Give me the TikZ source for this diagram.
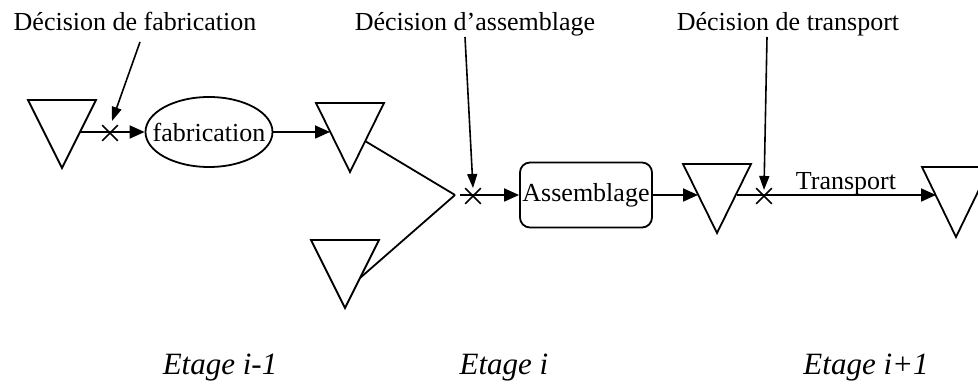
\documentclass[tikz,border=0pt]{standalone}
\usepackage{fontspec}
\setmainfont{Liberation Serif}
\usetikzlibrary{arrows.meta,shapes.geometric,shapes.misc,calc}
\begin{document}
\begin{tikzpicture}[x=1pt,y=-1pt,line width=1.8pt,
  txt/.style={font=\fontsize{26}{30}\selectfont, inner sep=0pt},
  etage/.style={font=\fontsize{31}{34}\selectfont\itshape, inner sep=0pt, anchor=base},
  arr/.style={-{Triangle[length=15pt,width=13pt]}},
  darr/.style={-{Triangle[length=14pt,width=10pt]}, line width=1.6pt},
  xmark/.style={draw, cross out, minimum size=14pt, inner sep=0pt, line width=1.6pt},
  tri/.style={line width=1.8pt, line join=miter}]
\useasboundingbox (0,0) rectangle (978,387);
\clip (0,0) rectangle (978,387);
% triangles (coordinate = centre of top edge)
\coordinate (t1) at (62,100);
\coordinate (t2) at (350,103);
\coordinate (t3) at (345,240);
\coordinate (t4) at (717,164);
\coordinate (t5) at (956,167);
\foreach \t/\h in {t1/68, t2/69, t3/68, t4/69, t5/70}
  \draw[tri] ($(\t)+(-34,0)$) -- ($(\t)+(34,0)$) -- ($(\t)+(0,\h)$) -- cycle;
% process nodes
\node[draw, ellipse, minimum width=127pt, minimum height=70pt, inner sep=0pt, line width=1.8pt,
  label={[txt]center:fabrication}] (fab) at (209,132) {};
\node[txt, draw, rounded corners=10pt, minimum width=132pt, minimum height=65pt, line width=1.8pt] (ass) at (586,195) {Assemblage};
% cross marks
\node[xmark] (x1) at (110,133) {};
\node[xmark] (x2) at (473,196) {};
\node[xmark] (x3) at (764,196) {};
% decision labels
\node[txt, anchor=base] (d1) at (135,31) {Décision de fabrication};
\node[txt, anchor=base] (d2) at (475,31) {Décision d’assemblage};
\node[txt, anchor=base] (d3) at (788,31) {Décision de transport};
\coordinate (d1s) at (140,42);
\coordinate (d2s) at (465,37);
\coordinate (d3s) at (767,37);
\draw[darr] (d1s) -- ($(x1)+(2,-12)$);
\draw[darr] (d2s) -- ($(x2)+(0,-8)$);
\draw[darr] (d3s) -- ($(x3)+(0,-6)$);
% flow
\draw[arr] ($(t1)+(18,32)$) -- (fab.west);
\draw[arr] (fab.east) -- ($(t2)+(-20,29)$);
\coordinate (J) at (455,195);
\draw ($(t2)+(15,38)$) -- (J);
\draw ($(t3)+(15,38)$) -- (J);
\draw[arr] (460,195) -- (ass.west);
\draw[arr] (ass.east) -- ($(t4)+(-19,31)$);
\draw[arr] ($(t4)+(20,31)$) -- ($(t5)+(-20,28)$);
\node[txt, anchor=base] (tr) at (846,190) {Transport};
% stage labels
\node[etage] (e1) at (220,375) {Etage i-1};
\node[etage] (e2) at (504,375) {Etage i};
\node[etage] (e3) at (866,375) {Etage i+1};
\end{tikzpicture}
\end{document}
